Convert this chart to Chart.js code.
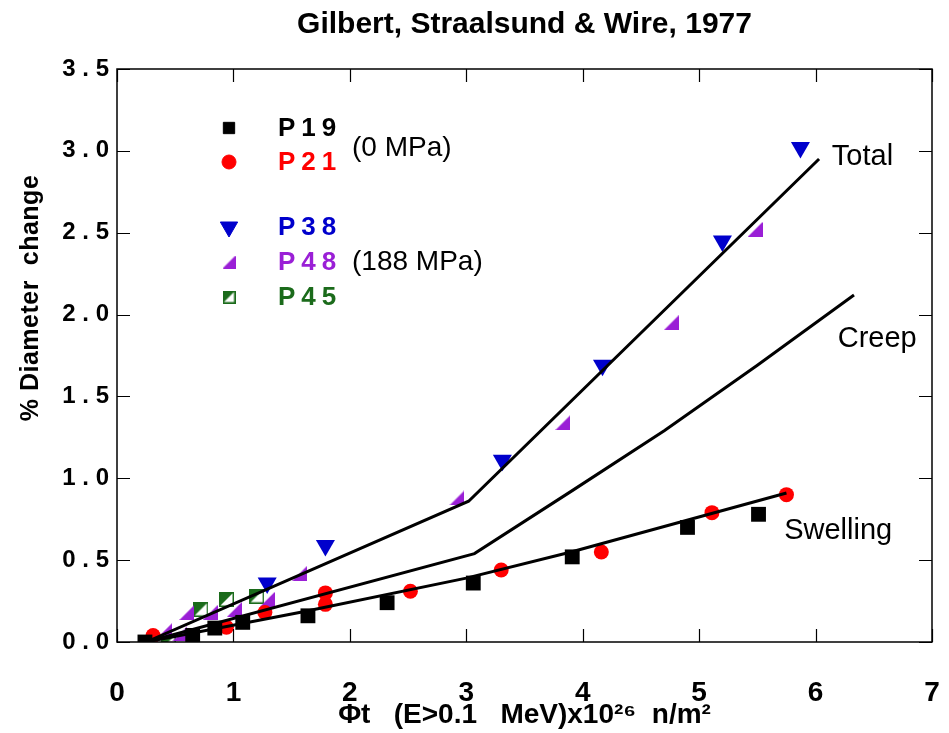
<!DOCTYPE html>
<html>
<head>
<meta charset="utf-8">
<script src="https://cdn.jsdelivr.net/npm/chart.js@4.4.1/dist/chart.umd.min.js"></script>
<style>
  body { margin: 0; background: #fff; }
</style>
</head>
<body>
<canvas id="chart" width="949" height="733"></canvas>
<script>
// data
const p19X = [0.24, 0.65, 0.84, 1.08, 1.64, 2.32, 3.06, 3.91, 4.90, 5.51];
const p19Y = [0.00, 0.04, 0.085, 0.12, 0.16, 0.24, 0.36, 0.52, 0.70, 0.78];
const p21X = [0.31, 0.94, 1.27, 1.79, 1.79, 2.52, 3.30, 4.16, 5.11, 5.75];
const p21Y = [0.04, 0.09, 0.18, 0.23, 0.30, 0.31, 0.44, 0.55, 0.79, 0.90];
const p38X = [1.29, 1.79, 3.31, 4.17, 5.20, 5.87];
const p38Y = [0.36, 0.59, 1.11, 1.69, 2.45, 3.02];
const p48X = [0.29, 0.41, 0.54, 0.60, 0.80, 1.01, 1.29, 1.57, 2.92, 3.83, 4.76, 5.48];
const p48Y = [0.00, 0.07, 0.05, 0.18, 0.18, 0.20, 0.26, 0.42, 0.88, 1.34, 1.95, 2.52];
const p45X = [0.44, 0.72, 0.94, 1.20];
const p45Y = [0.00, 0.20, 0.26, 0.28];

const totalX = [0.25, 3.02, 6.03];
const totalY = [0.00, 0.86, 2.95];
const creepX = [0.25, 3.07, 3.90, 4.70, 5.50, 6.33];
const creepY = [0.00, 0.54, 0.92, 1.29, 1.69, 2.12];
const swellX = [0.25, 1.60, 3.00, 3.90, 5.75];
const swellY = [0.00, 0.185, 0.39, 0.55, 0.91];

const annoText = ['Total', 'Creep', 'Swelling'];
const annoX = [6.14, 6.19, 5.73];
const annoY = [2.96, 1.85, 0.68];

const xTicks = [0, 1, 2, 3, 4, 5, 6, 7];
const yTicks = [0, 0.5, 1, 1.5, 2, 2.5, 3, 3.5];

const BLUE = '#0000cc';
const PURPLE = '#9a1fd6';
const GREEN = '#1b6b1b';
const RED = '#ff0000';

const SANS = '"Liberation Sans", Arial, sans-serif';

function pts(xs, ys) {
  return xs.map((x, i) => ({ x: x, y: ys[i] }));
}

// half filled triangle (right angle bottom-right)
function halfTri(size) {
  const c = document.createElement('canvas');
  c.width = size; c.height = size;
  const g = c.getContext('2d');
  g.fillStyle = PURPLE;
  g.beginPath();
  g.moveTo(0, size); g.lineTo(size, size); g.lineTo(size, 0);
  g.closePath(); g.fill();
  return c;
}

// square, upper-left half filled green
function halfSquare(size) {
  const c = document.createElement('canvas');
  c.width = size; c.height = size;
  const g = c.getContext('2d');
  g.fillStyle = '#fff';
  g.fillRect(0, 0, size, size);
  g.fillStyle = GREEN;
  g.beginPath();
  g.moveTo(0, 0); g.lineTo(size, 0); g.lineTo(0, size);
  g.closePath(); g.fill();
  g.strokeStyle = GREEN; g.lineWidth = 1.5;
  g.strokeRect(0.75, 0.75, size - 1.5, size - 1.5);
  return c;
}

const triImg = halfTri(15);
const sqImg = halfSquare(15);
const triImgSmall = halfTri(13);
const sqImgSmall = halfSquare(13);

function lineSet(xs, ys) {
  return { data: pts(xs, ys), showLine: true, borderColor: '#000', borderWidth: 3,
           pointRadius: 0, fill: false, tension: 0 };
}

const legendRows = [
  { label: 'P19', color: '#000', style: 'rect', bg: '#000', r: 8, dy: 59 },
  { label: 'P21', color: RED, style: 'circle', bg: RED, r: 7, dy: 93 },
  { label: 'P38', color: BLUE, style: 'triangle', bg: BLUE, r: 10, rot: 180, dy: 158 },
  { label: 'P48', color: PURPLE, style: triImgSmall, dy: 193 },
  { label: 'P45', color: GREEN, style: sqImgSmall, dy: 228 }
];

const decor = {
  id: 'decor',
  afterDraw(chart) {
    const ctx = chart.ctx;
    const a = chart.chartArea;
    const xs = chart.scales.x, ys = chart.scales.y;
    ctx.save();
    // frame
    ctx.strokeStyle = '#000';
    ctx.lineWidth = 1.5;
    ctx.strokeRect(a.left, a.top, a.right - a.left, a.bottom - a.top);
    // inward ticks on all four sides
    ctx.beginPath();
    xTicks.forEach(v => {
      const px = Math.round(xs.getPixelForValue(v)) + 0.5;
      ctx.moveTo(px, a.bottom); ctx.lineTo(px, a.bottom - 13);
      ctx.moveTo(px, a.top); ctx.lineTo(px, a.top + 13);
    });
    yTicks.forEach(v => {
      const py = Math.round(ys.getPixelForValue(v)) + 0.5;
      ctx.moveTo(a.left, py); ctx.lineTo(a.left + 13, py);
      ctx.moveTo(a.right, py); ctx.lineTo(a.right - 13, py);
    });
    ctx.lineWidth = 1.2;
    ctx.stroke();

    // curve labels
    ctx.fillStyle = '#000';
    ctx.font = '29px ' + SANS;
    ctx.textBaseline = 'middle';
    ctx.textAlign = 'left';
    annoText.forEach((t, i) => {
      ctx.fillText(t, xs.getPixelForValue(annoX[i]), ys.getPixelForValue(annoY[i]));
    });

    // legend
    const mx = a.left + 112, tx = a.left + 161;
    legendRows.forEach(r => {
      const y = a.top + r.dy;
      if (typeof r.style === 'string') {
        ctx.fillStyle = r.bg;
        ctx.strokeStyle = r.bg;
        ctx.lineWidth = 1;
        Chart.helpers.drawPoint(ctx, { pointStyle: r.style, radius: r.r, rotation: r.rot || 0,
          borderWidth: 1 }, mx, y);
      } else {
        ctx.drawImage(r.style, mx - r.style.width / 2, y - r.style.height / 2);
      }
      ctx.fillStyle = r.color;
      ctx.font = 'bold 26px ' + SANS;
      ctx.letterSpacing = '6px';
      ctx.fillText(r.label, tx, y + 1);
      ctx.letterSpacing = '0px';
    });
    ctx.fillStyle = '#000';
    ctx.font = '28px ' + SANS;
    ctx.fillText('(0 MPa)', a.left + 235, a.top + 79);
    ctx.fillText('(188 MPa)', a.left + 235, a.top + 193);

    // y axis title
    ctx.translate(31, 298);
    ctx.rotate(-Math.PI / 2);
    ctx.textAlign = 'center';
    ctx.font = 'bold 25px ' + SANS;
    ctx.letterSpacing = '0.5px';
    ctx.fillText('% Diameter  change', 0, 0);
    ctx.restore();
  }
};

new Chart(document.getElementById('chart'), {
  type: 'scatter',
  data: {
    datasets: [
      lineSet(totalX, totalY),
      lineSet(creepX, creepY),
      lineSet(swellX, swellY),
      { label: 'P19', data: pts(p19X, p19Y), pointStyle: 'rect', pointRadius: 10.5,
        backgroundColor: '#000', borderColor: '#000', borderWidth: 0 },
      { label: 'P21', data: pts(p21X, p21Y), pointStyle: 'circle', pointRadius: 7.5,
        backgroundColor: RED, borderColor: RED, borderWidth: 0 },
      { label: 'P38', data: pts(p38X, p38Y), pointStyle: 'triangle', rotation: 180, pointRadius: 11,
        backgroundColor: BLUE, borderColor: BLUE, borderWidth: 0 },
      { label: 'P48', data: pts(p48X, p48Y), pointStyle: triImg },
      { label: 'P45', data: pts(p45X, p45Y), pointStyle: sqImg }
    ]
  },
  options: {
    responsive: false,
    animation: false,
    devicePixelRatio: 1,
    layout: { padding: { left: 0, right: 17, top: 0, bottom: 0 } },
    plugins: {
      legend: { display: false },
      tooltip: { enabled: false },
      title: {
        display: true,
        fullSize: false,
        text: 'Gilbert, Straalsund & Wire, 1977',
        color: '#000',
        font: { family: SANS, size: 30, weight: 'bold' },
        padding: { top: 7, bottom: 26 }
      }
    },
    scales: {
      x: {
        type: 'linear', min: 0, max: 7,
        grid: { display: false, drawTicks: true, tickLength: 34 },
        border: { display: false },
        ticks: { stepSize: 1, color: '#000', padding: 0,
                 font: { family: SANS, size: 28, weight: 'bold' } },
        title: { display: true, text: 'Φt   (E>0.1   MeV)x10²⁶  n/m²', color: '#000',
                 font: { family: SANS, size: 28, weight: 'bold' }, padding: { top: 0, bottom: 1 } },
        afterFit(s) { s.height = 91; }
      },
      y: {
        type: 'linear', min: 0, max: 3.5,
        grid: { display: false, drawTicks: false },
        border: { display: false },
        ticks: { stepSize: 0.5, color: '#000', padding: 8,
                 font: { family: SANS, size: 24, weight: 'bold' },
                 callback: v => v.toFixed(1).split('').join(' ') },
        afterFit(s) { s.width = 117; }
      }
    }
  },
  plugins: [decor]
});
</script>
</body>
</html>
